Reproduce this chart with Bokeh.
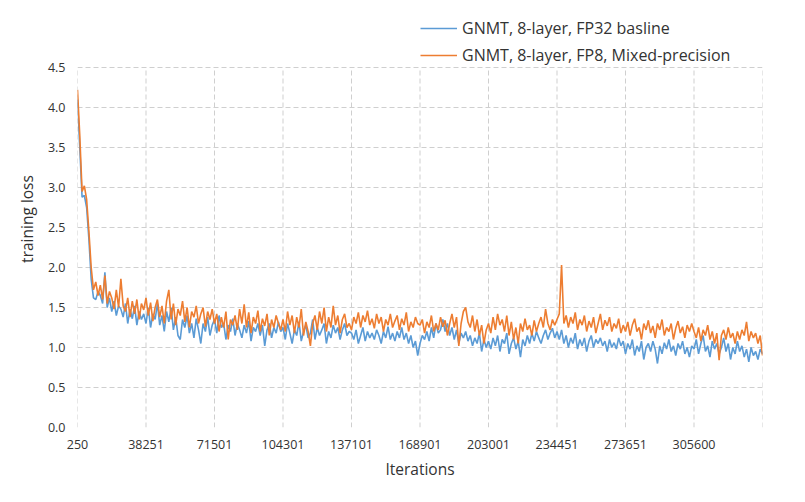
from bokeh.plotting import figure
from bokeh.models import Range1d, FixedTicker, Legend, LegendItem, PrintfTickFormatter
from bokeh.embed import file_html
from bokeh.resources import INLINE

# ---- data ----
tick_labels = ["250", "38251", "71501", "104301", "137101", "168901",
               "203001", "234451", "273651", "305600"]
points_per_label = 30

fp8_mixed = [
    4.22, 3.65, 2.95, 3.02, 2.85, 2.45, 2.0, 1.72, 1.82, 1.65,
    1.78, 1.6, 1.9, 1.55, 1.7, 1.62, 1.48, 1.72, 1.5, 1.86,
    1.52, 1.45, 1.62, 1.38, 1.58, 1.42, 1.6, 1.35, 1.55, 1.47,
    1.62, 1.4, 1.56, 1.33, 1.5, 1.6, 1.38, 1.52, 1.3, 1.58,
    1.72, 1.35, 1.55, 1.28, 1.48, 1.4, 1.58, 1.32, 1.5, 1.25,
    1.45, 1.38, 1.52, 1.3, 1.42, 1.5, 1.26, 1.45, 1.35, 1.48,
    1.3, 1.42, 1.2, 1.38, 1.25, 1.45, 1.1, 1.35, 1.28, 1.4,
    1.22, 1.48, 1.3, 1.54, 1.25, 1.44, 1.18, 1.38, 1.3, 1.46,
    1.2, 1.36, 1.27, 1.42, 1.15, 1.35, 1.25, 1.4, 1.3, 1.22,
    1.35, 1.2, 1.45, 1.28, 1.4, 1.18, 1.38, 1.25, 1.48, 1.15,
    1.32, 1.2, 1.02, 1.3, 1.4, 1.22, 1.45, 1.3, 1.5, 1.2,
    1.38, 1.25, 1.52, 1.28, 1.4, 1.18, 1.35, 1.42, 1.25, 1.3,
    1.22, 1.38, 1.3, 1.44, 1.25, 1.4, 1.32, 1.46, 1.28, 1.36,
    1.24, 1.42, 1.3, 1.38, 1.2, 1.35, 1.28, 1.42, 1.25, 1.33,
    1.4, 1.22, 1.36, 1.28, 1.44, 1.2, 1.32, 1.25, 1.38, 1.3,
    1.28, 1.35, 1.18, 1.32, 1.25, 1.4, 1.2, 1.3, 1.22, 1.38,
    1.26, 1.34, 1.15, 1.3, 1.42, 1.25, 1.38, 1.02, 1.3, 1.45,
    1.5, 1.32, 1.25, 1.4, 1.2, 1.35, 1.15, 1.28, 1.05, 1.22,
    1.3, 1.18, 1.38, 1.22, 1.42, 1.28, 1.35, 1.2, 1.4, 1.15,
    1.32, 1.1, 1.25, 1.05, 1.3, 1.2, 1.36, 1.22, 1.28, 1.15,
    1.34, 1.2, 1.3, 1.38, 1.25, 1.48, 1.3, 1.22, 1.35, 1.28,
    1.35, 1.42, 2.03, 1.3, 1.4, 1.25, 1.38, 1.3, 1.44, 1.22,
    1.35, 1.28, 1.4, 1.2, 1.33, 1.25, 1.38, 1.18, 1.3, 1.42,
    1.22, 1.34, 1.27, 1.38, 1.2, 1.3, 1.24, 1.36, 1.18, 1.28,
    1.2, 1.32, 1.15, 1.28, 1.36, 1.2, 1.25, 1.1, 1.3, 1.22,
    1.34, 1.18, 1.27, 1.12, 1.3, 1.22, 1.35, 1.15, 1.25, 1.2,
    1.3, 1.1, 1.24, 1.33, 1.18, 1.26, 1.12, 1.28, 1.2, 1.3,
    1.2, 1.12, 1.25, 1.08, 1.22, 1.15, 1.28, 1.1, 1.2, 1.05,
    1.18, 0.84, 1.15, 1.22, 1.1, 1.25, 1.12, 1.18, 1.05, 1.2,
    1.1, 1.22, 1.15, 1.32, 1.08, 1.2, 1.12, 1.18, 1.05, 1.15, 0.9,
]

fp32_baseline = [
    4.1, 3.5, 2.88, 2.9, 2.75, 2.35, 1.85, 1.62, 1.6, 1.7,
    1.65, 1.55, 1.94, 1.5, 1.62, 1.45, 1.58, 1.4, 1.52, 1.48,
    1.38, 1.55, 1.3, 1.48, 1.36, 1.52, 1.28, 1.45, 1.35, 1.42,
    1.3, 1.5, 1.25, 1.42, 1.35, 1.55, 1.28, 1.4, 1.2, 1.45,
    1.32, 1.5, 1.22, 1.38, 1.15, 1.1, 1.35, 1.25, 1.4, 1.18,
    1.3, 1.12, 1.36, 1.22, 1.05, 1.3, 1.2, 1.38, 1.15, 1.28,
    1.35, 1.18, 1.4, 1.25, 1.3, 1.1, 1.28, 1.2, 1.36, 1.15,
    1.3, 1.22, 1.12, 1.28, 1.18, 1.33, 1.08, 1.25, 1.2, 1.3,
    1.15, 1.28, 1.02, 1.22, 1.3, 1.12, 1.25, 1.18, 1.32, 1.2,
    1.25, 1.1, 1.3, 1.18, 1.05, 1.22, 1.15, 1.32, 1.08, 1.2,
    1.28, 1.12, 1.18, 1.35, 1.1, 1.25, 1.15, 1.22, 1.3, 1.05,
    1.2, 1.12, 1.28, 1.18, 1.25, 1.1, 1.22, 1.3, 1.15, 1.2,
    1.18, 1.1, 1.22, 1.05, 1.15, 1.25, 1.08, 1.2, 1.12, 1.18,
    1.1, 1.22, 1.15, 1.05, 1.2, 1.12, 1.26, 1.1, 1.18, 1.08,
    1.2, 1.12, 1.25, 1.1, 1.18, 1.05, 1.15, 1.0, 1.08, 0.9,
    1.05, 1.15, 1.1, 1.2, 1.08, 1.25, 1.12, 1.3, 1.18, 1.22,
    1.35, 1.2, 1.3, 1.15, 1.25, 1.1, 1.22, 1.05, 1.18, 1.12,
    1.2, 1.08, 1.15, 1.02, 1.12, 1.05, 1.18, 0.95, 1.1, 1.0,
    1.08, 0.98, 1.12, 1.02, 1.15, 0.95, 1.1, 1.05, 1.18, 0.92,
    1.05, 1.12, 0.98, 1.08, 0.88, 1.1, 1.02, 1.15, 1.05, 1.18,
    1.08, 1.2, 1.12, 1.05, 1.15, 1.22, 1.1, 1.18, 1.24, 1.12,
    1.2, 1.1, 1.22, 1.05, 1.15, 1.0, 1.12, 1.05, 1.18, 0.98,
    1.1, 1.02, 1.12, 0.95, 1.08, 1.15, 1.0, 1.1, 1.05, 1.12,
    1.02, 1.08, 0.95, 1.1, 1.0, 1.06, 0.98, 1.12, 1.02, 1.08,
    0.92, 1.05, 0.98, 1.1, 0.9, 1.02, 0.95, 1.08, 0.85, 1.0,
    1.05, 0.95, 1.08, 0.98, 0.8, 1.02, 0.92, 1.06, 0.98, 1.1,
    0.95, 1.02, 0.9, 1.05, 0.98, 1.08, 0.92, 1.0, 0.88, 1.02,
    0.98, 1.1, 0.92, 1.05, 1.15, 0.95, 1.02, 0.88, 1.08, 0.98,
    1.05, 0.92, 1.0, 1.12, 0.95, 1.05, 0.85, 1.0, 0.92, 1.08,
    0.95, 1.02, 0.88, 0.98, 0.82, 1.0, 0.9, 0.95, 0.85, 0.98, 0.92,
]

series_names = ["GNMT, 8-layer, FP32 basline", "GNMT, 8-layer, FP8, Mixed-precision"]
y_ticks = [0.0, 0.5, 1.0, 1.5, 2.0, 2.5, 3.0, 3.5, 4.0, 4.5]

# ---- figure ----
n_points = len(fp32_baseline)
last_index = n_points - 1
x_idx = list(range(n_points))

FONT = "Open Sans"
TEXT_COLOR = "#333333"
GRID_COLOR = "#cfcfcf"
GRID_DASH = "5 3"

FIG_H = 486
TOP = 10
BOTTOM = 59
frame_h = FIG_H - TOP - BOTTOM
y_top_value = y_ticks[-1]
px_per_unit = 360 / y_top_value          # 4.5 sits 360 px above 0.0
y_end = frame_h / px_per_unit             # extra room above 4.5 for the legend

p = figure(width=789, height=FIG_H, output_backend="svg", toolbar_location=None,
           x_range=Range1d(0, last_index), y_range=Range1d(0, y_end))
p.min_border_left = 77
p.min_border_right = 27
p.min_border_top = TOP
p.min_border_bottom = BOTTOM
p.outline_line_color = None
p.background_fill_color = "white"
p.border_fill_color = "white"

x_ticks = list(range(0, last_index + 1, points_per_label))

# vertical category grid lines, limited to the 0..4.5 plot area
p.xgrid.grid_line_color = None
p.segment(x0=x_ticks, y0=[0] * len(x_ticks), x1=x_ticks, y1=[y_top_value] * len(x_ticks),
          line_color=GRID_COLOR, line_dash=GRID_DASH, line_width=1)
p.ygrid.grid_line_color = GRID_COLOR
p.ygrid.grid_line_dash = GRID_DASH
p.ygrid.grid_line_width = 1

r_blue = p.line(x_idx, fp32_baseline, line_color="#5B9BD5", line_width=1.6)
r_orange = p.line(x_idx, fp8_mixed, line_color="#ED7D31", line_width=1.6)

overrides = {}
for k, t in enumerate(x_ticks):
    overrides[t] = tick_labels[k] if k < len(tick_labels) else ""
p.xaxis.ticker = FixedTicker(ticks=x_ticks)
p.xaxis.major_label_overrides = overrides
p.yaxis.ticker = FixedTicker(ticks=y_ticks)
p.yaxis.formatter = PrintfTickFormatter(format="%.1f")

for ax in (p.xaxis, p.yaxis):
    ax.axis_line_color = None
    ax.major_tick_line_color = None
    ax.minor_tick_line_color = None
    ax.major_label_text_font = FONT
    ax.major_label_text_font_size = "12.5px"
    ax.major_label_text_color = TEXT_COLOR
    ax.axis_label_text_font = FONT
    ax.axis_label_text_font_size = "15.5px"
    ax.axis_label_text_font_style = "normal"
    ax.axis_label_text_color = TEXT_COLOR

p.xaxis.axis_label = "Iterations"
p.yaxis.axis_label = "training loss"
p.xaxis.major_label_standoff = 6
p.yaxis.major_label_standoff = 6
p.xaxis.axis_label_standoff = 6
p.yaxis.axis_label_standoff = 7

legend = Legend(items=[LegendItem(label=series_names[0], renderers=[r_blue]),
                       LegendItem(label=series_names[1], renderers=[r_orange])],
                location=(343, 361))
legend.border_line_color = None
legend.background_fill_alpha = 0
legend.padding = 0
legend.margin = 0
legend.spacing = 5
legend.glyph_width = 37
legend.glyph_height = 20
legend.label_height = 20
legend.label_standoff = 5
legend.label_text_font = FONT
legend.label_text_font_size = "16px"
legend.label_text_color = TEXT_COLOR
p.add_layout(legend, "center")

open("out.html", "w").write(file_html(p, INLINE))
